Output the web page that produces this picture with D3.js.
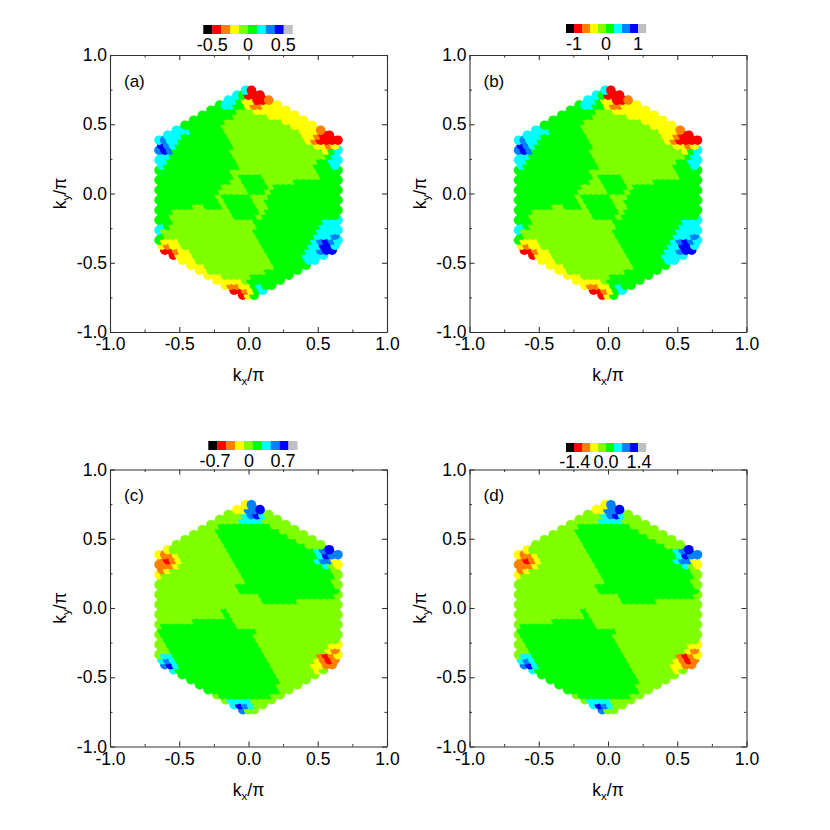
<!DOCTYPE html>
<html>
<head>
<meta charset="utf-8">
<script src="https://cdn.jsdelivr.net/npm/d3@7"></script>
<style>
  body { margin: 0; background: #fff; }
  text { font-family: "Liberation Sans", Arial, sans-serif; fill: #000; }
</style>
</head>
<body>
<svg id="plt" width="830" height="830"></svg>
<script>
// colour classes of the map, lowest to highest
const levelColors = ['#000000', '#ff0000', '#ff8000', '#ffff00', '#80ff00', '#00ff00', '#00ffff', '#0080ff', '#0000ff', '#c0c0c0'];

// k_x/pi of the first dot in each row, top row first
const rowStart = [-0.0208, -0.0833, -0.1458, -0.2083, -0.2708, -0.3333, -0.3958, -0.4583, -0.5208, -0.5833,
    -0.6458, -0.625, -0.6458, -0.625, -0.6458, -0.625, -0.6458, -0.625, -0.6458, -0.625,
    -0.6458, -0.625, -0.6458, -0.625, -0.6458, -0.625, -0.6458, -0.625, -0.6458, -0.625,
    -0.6458, -0.625, -0.6042, -0.5417, -0.4792, -0.4167, -0.3542, -0.2917, -0.2292, -0.1667, -0.1042, -0.0417];
// k_y/pi of each row
const rowKy = [0.746, 0.710, 0.674, 0.638, 0.601, 0.565, 0.529, 0.493, 0.457, 0.421,
    0.385, 0.349, 0.313, 0.277, 0.241, 0.204, 0.168, 0.132, 0.096, 0.060,
    0.024, -0.012, -0.048, -0.084, -0.120, -0.157, -0.193, -0.229, -0.265, -0.301,
    -0.337, -0.373, -0.409, -0.445, -0.481, -0.517, -0.553, -0.590, -0.626, -0.662, -0.698, -0.734];
const dotStep = 0.04167; // spacing along a row

// one digit per dot, index into levelColors
const rowsAB = [
    '61',
    '65111',
    '66533112',
    '56655322333',
    '55555444333333',
    '55555544444433333',
    '55555544444444443333',
    '55555554444444444443333',
    '66655555544444444444443332',
    '66655555555444444444444433211',
    '67665555555554444444444444321111',
    '8765555555555444444444444443323',
    '78755555555554444444444444444356',
    '6655555555555444444444444444456',
    '66555555555555444444444444445566',
    '6555555555555544444444444445556',
    '55555555555554444444444444445555',
    '5555555555555455554444444444555',
    '55555555555554455554444455555555',
    '5555555555544445555455555555555',
    '55555555555444445554555555555555',
    '5555555555455555444555555555555',
    '55555555555455555445555555555555',
    '5555554455545555544555555555555',
    '55544444444445555545555555555555',
    '5544444444444555545555555555555',
    '55544444444444444555555555555666',
    '6544444444444444455555555555666',
    '64444444444444444555555555556666',
    '5444444444444444455555555556667',
    '53334444444444444455555555567876',
    '3233444444444444445555555566886',
    '112334444444444444555555566788',
    '133344444444444445555556666',
    '333444444444444455555566',
    '333444444444444555555',
    '334444444444555555',
    '333444445555555',
    '333334555555',
    '322335655',
    '112356',
    '135'
];
const rowsCD = [
    '37',
    '33778',
    '44467864',
    '44446666444',
    '44555555555444',
    '44455555555555444',
    '44444555555555555444',
    '44444445555555555555444',
    '44444444455555555555555444',
    '34444444444555555555555555678',
    '32234444444445555555555555556877',
    '2123444444444555555555555556773',
    '22234444444444555555555555555643',
    '2344444444444455555555555555554',
    '34444444444444455555555555555554',
    '4444444444444445555555555555554',
    '44444444444444555555555555555554',
    '4444444444444455555555555555555',
    '44444444444444444455555555555554',
    '4444444444444444445555554444444',
    '44444444444444444444444444444444',
    '4444444444454444444444444444444',
    '44444444444454444444444444444444',
    '4444445555555444444444444444444',
    '45555555555555444444444444444444',
    '5555555555555555544444444444444',
    '45555555555555555444444444444444',
    '4555555555555555544444444444444',
    '44555555555555555544444444444433',
    '4455555555555555554444444444432',
    '46655555555555555554444444442123',
    '6765555555555555555444444443212',
    '786555555555555555544444443322',
    '655555555555555555444444434',
    '555555555555555554444444',
    '555555555555555544444',
    '555555555555554444',
    '555555555555544',
    '455555555544',
    '466664444',
    '687644',
    '744'
];

// panels
const panelLabels = ['(a)', '(b)', '(c)', '(d)'];
const panelRows = [rowsAB, rowsAB, rowsCD, rowsCD];
const panelLeft = [110, 469.5, 110, 469.5];
const panelTop = [55, 55, 469.5, 469.5];
const barLeft = [203.3, 566, 208.3, 566];
const barTop = [25, 24, 441, 443];
const barWidth = [8.93, 8, 8.9, 8];
const barTicks = [['-0.5', '0', '0.5'], ['-1', '0', '1'], ['-0.7', '0', '0.7'], ['-1.4', '0.0', '1.4']];
const barTickAt = [[8.9, 44.7, 80], [8, 40, 72], [6.7, 40.7, 74.7], [8.7, 40, 73]];
const barTextY = [51, 50, 467, 468];
const axisTicks = [-1, -0.5, 0, 0.5, 1];
const minorTicks = [-0.75, -0.25, 0.25, 0.75];

const plotSize = 277;
const dotRadius = 4.8;
const svg = d3.select('#plt');
const tickText = d => d3.format('.1f')(d).replace('\u2212', '-');

panelLabels.forEach(function (label, p) {
    const g = svg.append('g').attr('transform', 'translate(' + panelLeft[p] + ',' + panelTop[p] + ')');
    const xMap = d3.scaleLinear().domain([-1, 1]).range([0, plotSize]);
    const yMap = d3.scaleLinear().domain([-1, 1]).range([plotSize, 0]);

    // bottom rows first so the upper rows sit on top of them
    d3.range(panelRows[p].length - 1, -1, -1).forEach(function (r) {
        const row = panelRows[p][r].split('').map(Number);
        g.append('g').selectAll('circle').data(row).enter().append('circle')
            .attr('cx', (d, i) => xMap(rowStart[r] + i * dotStep))
            .attr('cy', yMap(rowKy[r]))
            .attr('r', dotRadius)
            .attr('fill', d => levelColors[d]);
    });

    // frame and ticks on all four sides; [axis, x, y, tick padding or null for no labels]
    const sides = [
        [d3.axisBottom(xMap), 0, plotSize, 6],
        [d3.axisTop(xMap), 0, 0, null],
        [d3.axisLeft(yMap), 0, 0, 3],
        [d3.axisRight(yMap), plotSize, 0, null]
    ];
    sides.forEach(function (s) {
        const major = g.append('g').attr('transform', 'translate(' + s[1] + ',' + s[2] + ')')
            .call(s[0].tickValues(axisTicks).tickSize(-5).tickSizeOuter(0).tickPadding(s[3] || 0)
                .tickFormat(s[3] === null ? '' : tickText));
        major.selectAll('text').style('font-size', '17.5px').attr('fill', '#000');
        major.selectAll('path,line').attr('stroke', '#333').attr('stroke-width', 1.1);
        const minor = g.append('g').attr('transform', 'translate(' + s[1] + ',' + s[2] + ')')
            .call(s[0].tickValues(minorTicks).tickSize(-2.5).tickSizeOuter(0).tickFormat(''));
        minor.select('path').remove();
        minor.selectAll('line').attr('stroke', '#333').attr('stroke-width', 1);
    });

    g.append('text').attr('x', 14).attr('y', 31.5).style('font-size', '17px').text(label);

    // axis titles
    const xTitle = g.append('text').attr('x', plotSize / 2).attr('y', 326).attr('text-anchor', 'middle').style('font-size', '17.5px');
    xTitle.append('tspan').text('k');
    xTitle.append('tspan').attr('dy', 4).style('font-size', '11.5px').text('x');
    xTitle.append('tspan').attr('dy', -4).text('/\u03c0');
    const yTitle = g.append('text').attr('transform', 'translate(-44,' + plotSize / 2 + ') rotate(-90)').attr('text-anchor', 'middle').style('font-size', '17.5px');
    yTitle.append('tspan').text('k');
    yTitle.append('tspan').attr('dy', 4).style('font-size', '11.5px').text('y');
    yTitle.append('tspan').attr('dy', -4).text('/\u03c0');

    // colour bar above the panel
    const bar = svg.append('g').attr('transform', 'translate(' + barLeft[p] + ',' + barTop[p] + ')');
    bar.selectAll('rect').data(levelColors).enter().append('rect')
        .attr('x', (d, i) => i * barWidth[p]).attr('y', 0)
        .attr('width', barWidth[p] + 0.2).attr('height', 9)
        .attr('fill', d => d);
    bar.selectAll('text').data(barTicks[p]).enter().append('text')
        .attr('x', (d, i) => barTickAt[p][i])
        .attr('y', barTextY[p] - barTop[p])
        .attr('text-anchor', 'middle')
        .style('font-size', '18px')
        .text(d => d);
});
</script>
</body>
</html>
